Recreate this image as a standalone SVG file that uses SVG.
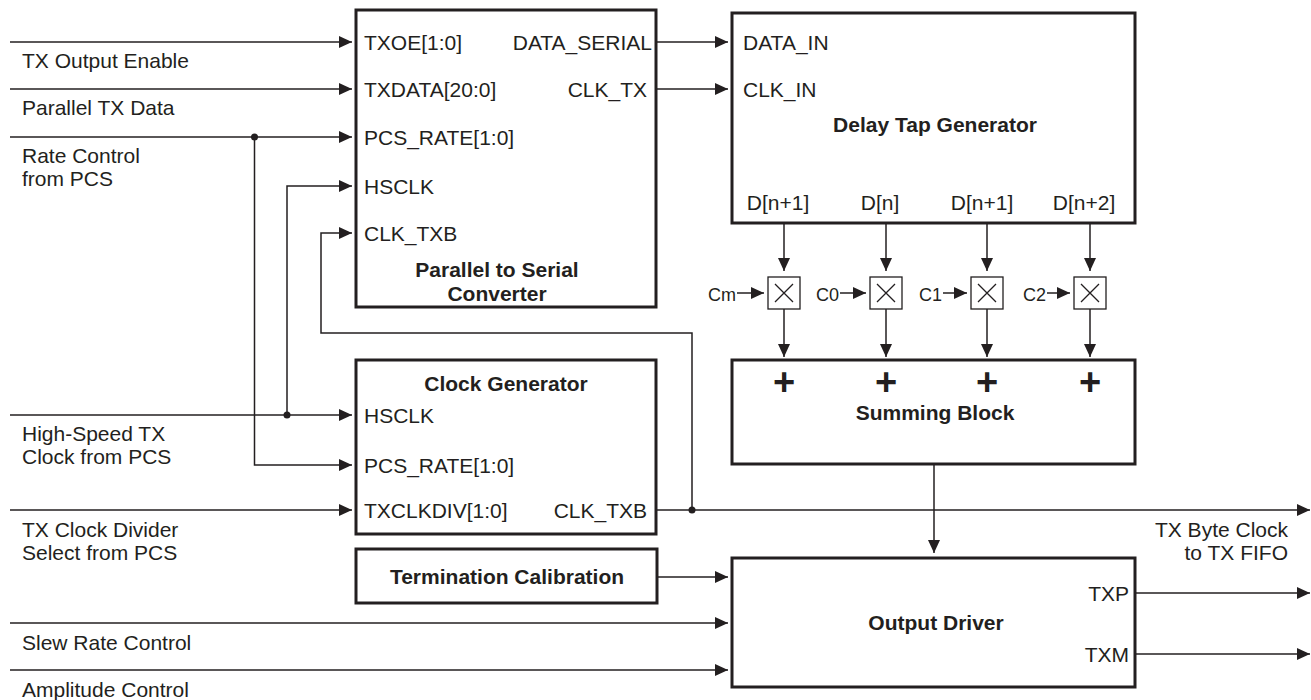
<svg xmlns="http://www.w3.org/2000/svg" width="1311" height="700" viewBox="0 0 1311 700">
<defs>
<marker id="ah" markerUnits="userSpaceOnUse" markerWidth="13" markerHeight="12" refX="13" refY="6" orient="auto"><path d="M0,0 L13,6 L0,12 z" fill="#231f20"/></marker>
<style>
text{font-family:"Liberation Sans",Arial,sans-serif;font-size:21px;fill:#231f20}
.b{font-weight:bold}
.m{text-anchor:middle}
.e{text-anchor:end}
.c{font-size:18px}
.plus{font-size:38px;font-weight:bold;text-anchor:middle}
.box{fill:#fff;stroke:#231f20;stroke-width:3}
.mul{fill:#fff;stroke:#231f20;stroke-width:1.3}
.w{fill:none;stroke:#231f20;stroke-width:1.5}
.x{fill:none;stroke:#231f20;stroke-width:1.3}
.a{marker-end:url(#ah)}
.dot{fill:#231f20}
</style>
</defs>

<g id="connectors">
<path class="w a" d="M10,42 H352"/>
<path class="w a" d="M10,89 H352"/>
<path class="w a" d="M10,137 H352"/>
<path class="w a" d="M10,415 H352"/>
<path class="w a" d="M10,510 H352"/>
<path class="w a" d="M10,623 H728"/>
<path class="w a" d="M10,670 H728"/>
<path class="w a" d="M254.5,137 V465 H352"/>
<path class="w a" d="M287,415 V186 H352"/>
<path class="w a" d="M692,510 V333 H321 V233 H352"/>
<path class="w a" d="M656,42 H728"/>
<path class="w a" d="M656,89 H728"/>
<path class="w a" d="M784,223 V271"/>
<path class="w a" d="M886,223 V271"/>
<path class="w a" d="M987,223 V271"/>
<path class="w a" d="M1090,223 V271"/>
<path class="w a" d="M784,309 V357"/>
<path class="w a" d="M886,309 V357"/>
<path class="w a" d="M987,309 V357"/>
<path class="w a" d="M1090,309 V357"/>
<path class="w a" d="M737,293 H764"/>
<path class="w a" d="M840,293 H866"/>
<path class="w a" d="M943,293 H967"/>
<path class="w a" d="M1047,293 H1070"/>
<path class="w a" d="M934,464 V553"/>
<path class="w a" d="M657,577 H728"/>
<path class="w a" d="M656,510 H1310"/>
<path class="w a" d="M1135,593 H1310"/>
<path class="w a" d="M1135,654 H1310"/>
<circle class="dot" cx="254.5" cy="137" r="3.5"/>
<circle class="dot" cx="287" cy="415" r="3.5"/>
<circle class="dot" cx="692" cy="510" r="3.5"/>
</g>

<g id="input-labels">
<text x="22" y="67.5">TX Output Enable</text>
<text x="22" y="114.5">Parallel TX Data</text>
<text x="22" y="162.5">Rate Control</text>
<text x="22" y="186">from PCS</text>
<text x="22" y="441">High-Speed TX</text>
<text x="22" y="464">Clock from PCS</text>
<text x="22" y="536.5">TX Clock Divider</text>
<text x="22" y="560">Select from PCS</text>
<text x="22" y="649.5">Slew Rate Control</text>
<text x="22" y="696.5">Amplitude Control</text>
<text class="e" x="1288" y="536.5">TX Byte Clock</text>
<text class="e" x="1288" y="560">to TX FIFO</text>
</g>

<g id="p2s">
<rect class="box" x="356" y="10" width="300" height="297"/>
<text x="364" y="50">TXOE[1:0]</text>
<text x="364" y="97">TXDATA[20:0]</text>
<text x="364" y="145">PCS_RATE[1:0]</text>
<text x="364" y="194">HSCLK</text>
<text x="364" y="241">CLK_TXB</text>
<text class="e" x="652" y="50">DATA_SERIAL</text>
<text class="e" x="647" y="97">CLK_TX</text>
<text class="b m" x="497" y="277">Parallel to Serial</text>
<text class="b m" x="497" y="301">Converter</text>
</g>

<g id="delay-tap">
<rect class="box" x="732" y="13" width="403" height="210"/>
<text x="743" y="49.5">DATA_IN</text>
<text x="743" y="96.5">CLK_IN</text>
<text class="b m" x="935" y="131.5">Delay Tap Generator</text>
<text class="m" x="778" y="209.5">D[n+1]</text>
<text class="m" x="880" y="209.5">D[n]</text>
<text class="m" x="982" y="209.5">D[n+1]</text>
<text class="m" x="1084" y="209.5">D[n+2]</text>
</g>

<g id="mult-m">
<text class="c e" x="736" y="300.5">Cm</text>
<rect class="mul" x="768" y="277" width="32" height="32"/>
<path class="x" d="M775,284 L793,302 M793,284 L775,302"/>
</g>
<g id="mult-0">
<text class="c e" x="839" y="300.5">C0</text>
<rect class="mul" x="870" y="277" width="32" height="32"/>
<path class="x" d="M877,284 L895,302 M895,284 L877,302"/>
</g>
<g id="mult-1">
<text class="c e" x="942" y="300.5">C1</text>
<rect class="mul" x="971" y="277" width="32" height="32"/>
<path class="x" d="M978,284 L996,302 M996,284 L978,302"/>
</g>
<g id="mult-2">
<text class="c e" x="1046" y="300.5">C2</text>
<rect class="mul" x="1074" y="277" width="32" height="32"/>
<path class="x" d="M1081,284 L1099,302 M1099,284 L1081,302"/>
</g>

<g id="summing">
<rect class="box" x="732" y="360" width="403" height="104"/>
<text class="plus" x="784" y="395">+</text>
<text class="plus" x="886" y="395">+</text>
<text class="plus" x="987" y="395">+</text>
<text class="plus" x="1090" y="395">+</text>
<text class="b m" x="935" y="420">Summing Block</text>
</g>

<g id="clock-gen">
<rect class="box" x="356" y="360" width="300" height="174"/>
<text class="b m" x="506" y="390.5">Clock Generator</text>
<text x="364" y="422.5">HSCLK</text>
<text x="364" y="472.5">PCS_RATE[1:0]</text>
<text x="364" y="518">TXCLKDIV[1:0]</text>
<text class="e" x="647" y="518">CLK_TXB</text>
</g>

<g id="term-cal">
<rect class="box" x="356" y="549" width="301" height="54"/>
<text class="b m" x="507" y="584">Termination Calibration</text>
</g>

<g id="output-driver">
<rect class="box" x="732" y="558" width="403" height="129"/>
<text class="b m" x="936" y="629.5">Output Driver</text>
<text class="e" x="1129" y="601">TXP</text>
<text class="e" x="1129" y="662">TXM</text>
</g>
</svg>
